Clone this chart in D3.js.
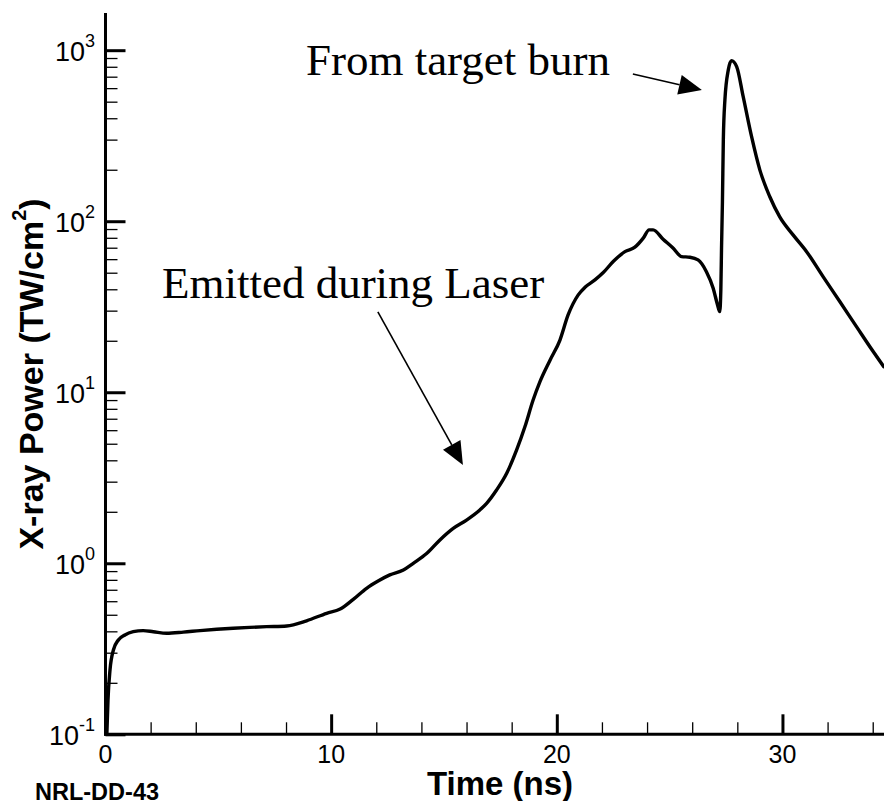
<!DOCTYPE html>
<html>
<head>
<meta charset="utf-8">
<script src="https://cdn.jsdelivr.net/npm/d3@7"></script>
<style>
  body { margin: 0; background: #fff; }
  svg { display: block; }
</style>
</head>
<body>
<svg id="chart" width="884" height="801"></svg>
<script>
// X-ray power history (TW/cm^2) versus time (ns)
const timeNs = [
  0.06, 0.11, 0.2, 0.35, 0.57, 0.86, 1.23, 1.67, 2.12, 2.71, 3.45, 4.19, 4.93, 5.66,
  6.4, 7.14, 8.03, 8.91, 9.8, 10.4, 10.98, 11.57, 12.1, 12.6, 13.2, 13.64, 14.23,
  14.82, 15.41, 16.0, 16.59, 16.89, 17.33, 17.78, 18.22, 18.59, 18.95, 19.25, 19.7,
  20.14, 20.5, 20.95, 21.25, 21.69, 22.06, 22.5, 23.02, 23.46, 23.83, 24.09, 24.27,
  24.71, 25.16, 25.53, 25.9, 26.26, 26.63, 26.93, 27.12, 27.22, 27.27, 27.3, 27.34,
  27.38, 27.45, 27.6, 27.74, 27.97, 28.26, 28.63, 29.0, 29.44, 29.88, 30.47, 31.07,
  31.8, 32.54, 33.28, 34.02, 34.49
];
const powerTW = [
  0.1, 0.158, 0.238, 0.311, 0.356, 0.381, 0.398, 0.404, 0.398, 0.39, 0.396, 0.404, 0.411, 0.417,
  0.422, 0.426, 0.43, 0.461, 0.51, 0.54, 0.615, 0.714, 0.79, 0.855, 0.914, 1.0, 1.14,
  1.37, 1.6, 1.79, 2.05, 2.24, 2.68, 3.36, 4.6, 6.3, 9.0, 11.5, 15.4,
  20.2, 28.3, 37.1, 41.1, 45.4, 50.1, 58.1, 66.4, 70.5, 79.6, 89, 89,
  78.5, 69.5, 62.1, 61.6, 59.4, 50.7, 40.6, 32.5, 29.6, 40, 70, 130,
  300, 512, 767, 869, 802, 535, 313, 199, 139, 106, 83.2, 66.4,
  47.4, 33.9, 24.2, 17.3, 14.1
];

const xMajorTicks = [0, 10, 20, 30];
const xMinorTicks = [2, 4, 6, 8, 12, 14, 16, 18, 22, 24, 26, 28, 32, 34];
const yDecadeExponents = [-1, 0, 1, 2, 3];

// annotation texts and arrows, anchored in data units
const notes = [
  { text: "Emitted during Laser", t: 2.5, v: 35.6,
    from: [12.07, 29.5], to: [15.84, 3.76] },
  { text: "From target burn", t: 8.88, v: 716,
    from: [23.37, 726], to: [26.43, 586] }
];

const svg = d3.select("#chart");
const plotL = 105.5, plotR = 884, plotT = 13, plotB = 734.3;

const x = d3.scaleLinear().domain([0, 34.5]).range([plotL, plotR]);
const y = d3.scaleLog().domain([0.1, 1650]).range([plotB, plotT]);

const sans = "'Liberation Sans', Arial, Helvetica, sans-serif";
const serif = "'Liberation Serif', 'Times New Roman', serif";

// minor y ticks: 2..9 within each decade
const yMinor = [];
yDecadeExponents.forEach(e => {
  for (let k = 2; k <= 9; k++) {
    const v = k * Math.pow(10, e);
    if (v < y.domain()[1]) yMinor.push(v);
  }
});
const yMajor = yDecadeExponents.map(e => Math.pow(10, e));

// x axis ticks (inward)
svg.append("g")
  .attr("transform", `translate(0,${plotB})`)
  .call(d3.axisBottom(x).tickValues(xMinorTicks).tickSize(-12).tickFormat(""))
  .call(g => g.select(".domain").remove())
  .call(g => g.selectAll("line").attr("stroke", "#000").attr("stroke-width", 1.3));
svg.append("g")
  .attr("transform", `translate(0,${plotB})`)
  .call(d3.axisBottom(x).tickValues(xMajorTicks).tickSize(-20).tickFormat(""))
  .call(g => g.select(".domain").remove())
  .call(g => g.selectAll("line").attr("stroke", "#000").attr("stroke-width", 3));

// y axis ticks (inward)
svg.append("g")
  .attr("transform", `translate(${plotL},0)`)
  .call(d3.axisLeft(y).tickValues(yMinor).tickSize(-12).tickFormat(""))
  .call(g => g.select(".domain").remove())
  .call(g => g.selectAll("line").attr("stroke", "#000").attr("stroke-width", 1.3));
svg.append("g")
  .attr("transform", `translate(${plotL},0)`)
  .call(d3.axisLeft(y).tickValues(yMajor).tickSize(-20).tickFormat(""))
  .call(g => g.select(".domain").remove())
  .call(g => g.selectAll("line").attr("stroke", "#000").attr("stroke-width", 3));

// axis lines
svg.append("line").attr("x1", plotL).attr("x2", plotL).attr("y1", plotT).attr("y2", plotB + 1.5)
  .attr("stroke", "#000").attr("stroke-width", 3);
svg.append("line").attr("x1", plotL - 1.5).attr("x2", plotR).attr("y1", plotB).attr("y2", plotB)
  .attr("stroke", "#000").attr("stroke-width", 3);

// x tick labels
svg.append("g").selectAll("text").data(xMajorTicks).join("text")
  .attr("x", d => x(d)).attr("y", plotB + 29)
  .attr("text-anchor", "middle")
  .attr("font-family", sans).attr("font-size", 25)
  .text(d => d);

// y tick labels as powers of ten
const yl = svg.append("g").selectAll("text").data(yDecadeExponents).join("text")
  .attr("x", 95).attr("y", d => y(Math.pow(10, d)) + 10.5)
  .attr("text-anchor", "end")
  .attr("font-family", sans).attr("font-size", 27);
yl.append("tspan").text("10");
yl.append("tspan").attr("dy", -14).attr("font-size", 18).text(d => d < 0 ? "-" + (-d) : d);

// axis titles
svg.append("text")
  .attr("x", 500).attr("y", 795)
  .attr("text-anchor", "middle")
  .attr("font-family", sans).attr("font-weight", "bold").attr("font-size", 33)
  .text("Time (ns)");

const yt = svg.append("text")
  .attr("transform", "translate(43.3,374) rotate(-90)")
  .attr("text-anchor", "middle")
  .attr("font-family", sans).attr("font-weight", "bold").attr("font-size", 34);
yt.append("tspan").text("X-ray Power (TW/cm");
yt.append("tspan").attr("dy", -17).attr("font-size", 20).text("2");
yt.append("tspan").attr("dy", 17).text(")");

svg.append("text")
  .attr("x", 35).attr("y", 800)
  .attr("font-family", sans).attr("font-weight", "bold").attr("font-size", 23.5)
  .text("NRL-DD-43");

// the power curve
const pts = timeNs.map((t, i) => [t, powerTW[i]]);
svg.append("path")
  .datum(pts)
  .attr("fill", "none")
  .attr("stroke", "#000")
  .attr("stroke-width", 3.4)
  .attr("stroke-linejoin", "round")
  .attr("stroke-linecap", "round")
  .attr("d", d3.line().x(d => x(d[0])).y(d => y(d[1])).curve(d3.curveMonotoneX));

// annotations
notes.forEach(n => {
  svg.append("text")
    .attr("x", x(n.t)).attr("y", y(n.v))
    .attr("font-family", serif).attr("font-size", 45)
    .text(n.text);
  const x0 = x(n.from[0]), y0 = y(n.from[1]);
  const x1 = x(n.to[0]), y1 = y(n.to[1]);
  const ang = Math.atan2(y1 - y0, x1 - x0);
  const headLen = 23, headHalf = 10;
  const bx = x1 - headLen * Math.cos(ang), by = y1 - headLen * Math.sin(ang);
  svg.append("line")
    .attr("x1", x0).attr("y1", y0).attr("x2", bx).attr("y2", by)
    .attr("stroke", "#000").attr("stroke-width", 1.6);
  const px = -Math.sin(ang) * headHalf, py = Math.cos(ang) * headHalf;
  svg.append("path")
    .attr("d", `M${x1},${y1}L${bx + px},${by + py}L${bx - px},${by - py}Z`)
    .attr("fill", "#000");
});
</script>
</body>
</html>
